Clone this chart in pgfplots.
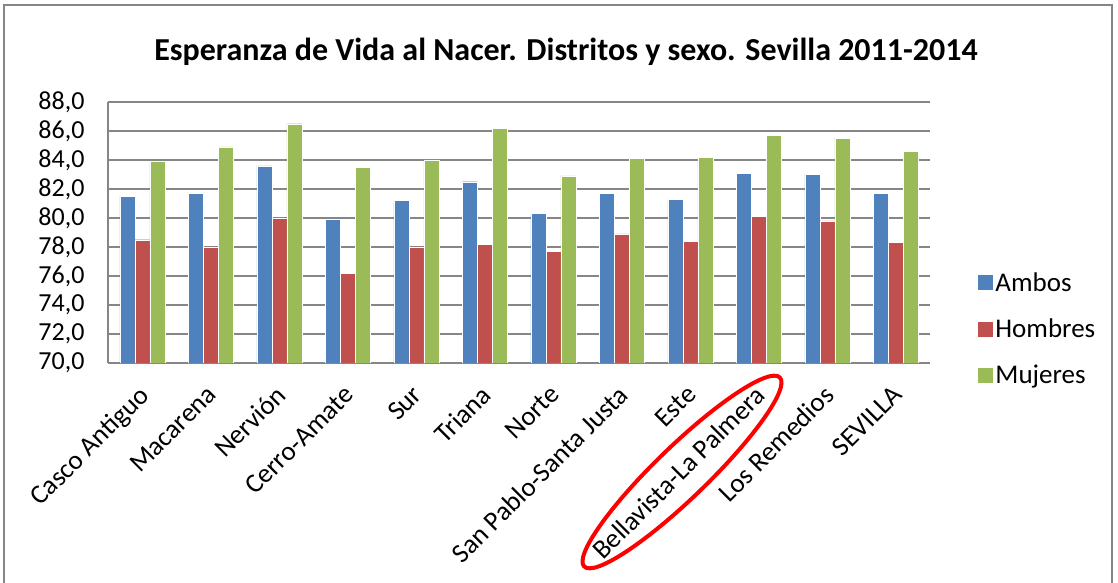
\documentclass[border=0pt]{standalone}
\usepackage{pgfplots}
\pgfplotsset{compat=1.18}
\usepackage{fontspec}
\setmainfont{Carlito}
\definecolor{cblue}{HTML}{4F81BD}
\definecolor{cred}{HTML}{C0504D}
\definecolor{cgreen}{HTML}{9BBB59}
\definecolor{cgrid}{HTML}{868686}
\begin{document}
\begin{tikzpicture}[x=1pt,y=1pt]
\path[use as bounding box] (0,0) rectangle (1118,583);
\draw[cgrid, line width=1.2pt] (4,-10) -- (4,578) -- (1112,578) -- (1112,-10);
\node[font=\fontsize{32}{36}\selectfont\bfseries] at (566,531) {Esperanza de Vida al Nacer. Distritos y sexo. Sevilla 2011-2014};
\begin{axis}[
  at={(108pt,220pt)}, anchor=south west,
  scale only axis, width=822pt, height=261pt,
  ybar=0pt, bar width=15pt,
  xmin=-0.5, xmax=11.5, ymin=70, ymax=88,
  ytick={70,72,...,88},
  xtick={0,...,11},
  xticklabels={Casco Antiguo,Macarena,Nervión,Cerro-Amate,Sur,Triana,Norte,San Pablo-Santa Justa,Este,Bellavista-La Palmera,Los Remedios,SEVILLA},
  x tick label style={xshift=-5pt, yshift=-16pt, rotate=45, anchor=north east, font=\fontsize{27}{29}\selectfont},
  y tick label style={font=\fontsize{26}{28}\selectfont, xshift=-20pt},
  yticklabel style={/pgf/number format/.cd, fixed, fixed zerofill, precision=1, use comma, assume math mode=true},
  major tick length=0pt,
  ymajorgrids, grid style={cgrid, line width=1.2pt},
  axis line style={cgrid, line width=1.2pt},
  axis x line*=bottom, axis y line*=left,
  legend style={at={(1.055,0.13)}, anchor=west, draw=none, font=\fontsize{27}{29}\selectfont, row sep=22pt, fill=none},
  legend cell align=left,
  legend image code/.code={\draw[#1, draw=none] (0cm,-7.5pt) rectangle (15pt,7.5pt);},
]
\addplot[fill=cblue, draw=white, line width=0.4pt] coordinates {(0,81.5) (1,81.7) (2,83.6) (3,79.9) (4,81.2) (5,82.5) (6,80.3) (7,81.7) (8,81.3) (9,83.1) (10,83.0) (11,81.7)};
\addplot[fill=cred, draw=white, line width=0.4pt] coordinates {(0,78.5) (1,78.0) (2,80.0) (3,76.2) (4,78.0) (5,78.2) (6,77.7) (7,78.9) (8,78.4) (9,80.1) (10,79.8) (11,78.3)};
\addplot[fill=cgreen, draw=white, line width=0.4pt] coordinates {(0,83.9) (1,84.9) (2,86.5) (3,83.5) (4,84.0) (5,86.2) (6,82.9) (7,84.1) (8,84.2) (9,85.7) (10,85.5) (11,84.6)};
\legend{Ambos,Hombres,Mujeres}
\end{axis}
\draw[red, line width=4pt, rotate around={44:(682,111)}] (682,111) ellipse (136pt and 26pt);
\end{tikzpicture}
\end{document}
